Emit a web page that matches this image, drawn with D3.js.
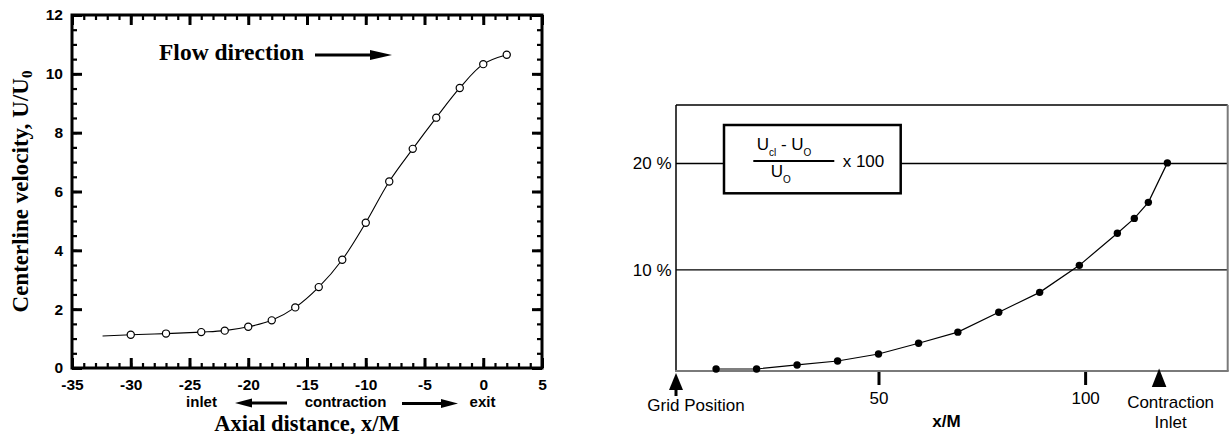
<!DOCTYPE html>
<html>
<head>
<meta charset="utf-8">
<script src="https://cdn.jsdelivr.net/npm/d3@7"></script>
<style>
  body { margin: 0; background: #fff; }
  svg { display: block; }
  .serif { font-family: "Liberation Serif", "Times New Roman", serif; font-weight: bold; }
  .sans { font-family: "Liberation Sans", Arial, Helvetica, sans-serif; }
</style>
</head>
<body>
<svg id="chart" width="1231" height="434"></svg>
<script>
// left panel: centerline velocity through the contraction
const leftX = [-30, -27, -24, -22, -20, -18, -16, -14, -12, -10, -8, -6, -4, -2, 0, 2];
const leftY = [1.13, 1.17, 1.22, 1.27, 1.40, 1.62, 2.06, 2.75, 3.68, 4.94, 6.34, 7.45, 8.51, 9.52, 10.33, 10.65];
const leftLineStart = [-32.4, 1.09];
const leftXTicks = [-35, -30, -25, -20, -15, -10, -5, 0, 5];
const leftYTicks = [0, 2, 4, 6, 8, 10, 12];

// right panel: (Ucl - Uo)/Uo x 100 along the tunnel
const rightX = [10.7, 20.5, 30.3, 40.1, 50, 59.7, 69.2, 79.1, 89.0, 98.6, 107.8, 111.9, 115.3, 119.9];
const rightY = [0.69, 0.69, 1.07, 1.44, 2.10, 3.11, 4.15, 6.02, 7.89, 10.43, 13.45, 14.84, 16.35, 20.06];
const rightXTicks = [50, 100];
const rightYTicks = [10, 20];
const rightMarks = [
  { x: 1, lines: ['Grid Position'], stem: true },
  { x: 117.9, lines: ['Contraction', 'Inlet'], stem: false }
];

const svg = d3.select('#chart');

function arrow(g, x1, y1, x2, y2, head, half, w) {
  const a = Math.atan2(y2 - y1, x2 - x1);
  const bx = x2 - head * Math.cos(a), by = y2 - head * Math.sin(a);
  g.append('line').attr('x1', x1).attr('y1', y1).attr('x2', bx).attr('y2', by)
    .attr('stroke', '#000').attr('stroke-width', w);
  const px = -Math.sin(a) * half, py = Math.cos(a) * half;
  g.append('path')
    .attr('d', `M${x2},${y2}L${bx + px},${by + py}L${bx - px},${by - py}Z`)
    .attr('fill', '#000');
}

// ---------- left panel ----------
const xL = d3.scaleLinear().domain([-35, 5]).range([72, 542]);
const yL = d3.scaleLinear().domain([0, 12]).range([368, 15]);
const gL = svg.append('g');

const minorX = d3.range(-35, 5.01, 1);
const minorY = d3.range(0, 12.01, 0.5);

const sides = [
  { make: () => d3.axisBottom(xL), t: `translate(0,${yL(0)})`, major: leftXTicks, minor: minorX, labels: true, pad: 11 },
  { make: () => d3.axisTop(xL), t: `translate(0,${yL(12)})`, major: leftXTicks, minor: minorX, labels: false },
  { make: () => d3.axisLeft(yL), t: `translate(${xL(-35)},0)`, major: leftYTicks, minor: minorY, labels: true, pad: 9 },
  { make: () => d3.axisRight(yL), t: `translate(${xL(5)},0)`, major: leftYTicks, minor: minorY, labels: false }
];
sides.forEach(s => {
  const gm = gL.append('g').attr('transform', s.t)
    .call(s.make().tickValues(s.minor).tickSizeInner(-5).tickSizeOuter(0).tickFormat(''));
  gm.select('.domain').remove();
  gm.selectAll('.tick line').attr('stroke-width', 2.2);

  const major = s.make().tickValues(s.major).tickSizeInner(-10).tickSizeOuter(0)
    .tickPadding(s.pad || 0).tickFormat(d => s.labels ? String(d) : '');
  const gM = gL.append('g').attr('transform', s.t).call(major);
  gM.select('.domain').remove();
  gM.selectAll('.tick line').attr('stroke-width', 3);
  gM.selectAll('.tick text').attr('class', 'sans')
    .style('font-size', '15.5px').style('font-weight', 'bold').attr('fill', '#000');
});

gL.append('rect')
  .attr('x', xL(-35)).attr('y', yL(12))
  .attr('width', xL(5) - xL(-35)).attr('height', yL(0) - yL(12))
  .attr('fill', 'none').attr('stroke', '#000').attr('stroke-width', 3);

const leftPts = leftX.map((x, i) => [x, leftY[i]]);
gL.append('path')
  .datum([leftLineStart].concat(leftPts))
  .attr('d', d3.line().x(d => xL(d[0])).y(d => yL(d[1])).curve(d3.curveCatmullRom))
  .attr('fill', 'none').attr('stroke', '#000').attr('stroke-width', 1.1);
gL.selectAll('circle.pt').data(leftPts).enter().append('circle')
  .attr('class', 'pt')
  .attr('cx', d => xL(d[0])).attr('cy', d => yL(d[1])).attr('r', 3.6)
  .attr('fill', '#fff').attr('stroke', '#000').attr('stroke-width', 1.2);

gL.append('text').attr('class', 'serif').attr('x', 159).attr('y', 60)
  .style('font-size', '23.5px').text('Flow direction');
arrow(gL, 315, 55, 392, 55, 22, 5, 3);

const yLab = gL.append('text').attr('class', 'serif')
  .attr('transform', `translate(28,${(yL(0) + yL(12)) / 2}) rotate(-90)`)
  .attr('text-anchor', 'middle').style('font-size', '23px');
yLab.append('tspan').text('Centerline velocity, U/U');
yLab.append('tspan').text('0').style('font-size', '15px').attr('dy', 4);

gL.append('text').attr('class', 'serif').attr('x', (xL(-35) + xL(5)) / 2).attr('y', 430.5)
  .attr('text-anchor', 'middle').style('font-size', '22.5px').text('Axial distance, x/M');

const subLab = [['inlet', 201.5], ['contraction', 345.5], ['exit', 482.5]];
subLab.forEach(d => {
  gL.append('text').attr('class', 'sans').attr('x', d[1]).attr('y', 407)
    .attr('text-anchor', 'middle').style('font-size', '15px').style('font-weight', 'bold').text(d[0]);
});
arrow(gL, 287, 403, 235, 403, 17, 4.5, 3);
arrow(gL, 402, 403.5, 458, 403.5, 17, 4.5, 3);

// ---------- right panel ----------
const xR = d3.scaleLinear().domain([1, 134.5]).range([676, 1227.7]);
const yR = d3.scaleLinear().domain([0.5, 25.5]).range([371, 105]);
const gR = svg.append('g');

gR.selectAll('line.grid').data(rightYTicks).enter().append('line')
  .attr('class', 'grid')
  .attr('x1', xR(1)).attr('x2', xR(134.5))
  .attr('y1', d => yR(d)).attr('y2', d => yR(d))
  .attr('stroke', '#000').attr('stroke-width', 1.4);

const yAxR = gR.append('g').attr('transform', `translate(${xR(1)},0)`)
  .call(d3.axisLeft(yR).tickValues(rightYTicks).tickSize(0).tickPadding(4.5).tickFormat(d => d + ' %'));
yAxR.select('.domain').remove();
yAxR.selectAll('text').attr('class', 'sans').style('font-size', '17px').attr('fill', '#000');

const xAxR = gR.append('g').attr('transform', `translate(0,${yR(0.5)})`)
  .call(d3.axisBottom(xR).tickValues(rightXTicks).tickSizeInner(14).tickSizeOuter(0).tickPadding(6.5));
xAxR.select('.domain').remove();
xAxR.selectAll('.tick line').attr('stroke-width', 3);
xAxR.selectAll('text').attr('class', 'sans').style('font-size', '17px').attr('fill', '#000');

// frame
gR.append('line').attr('x1', xR(1)).attr('x2', xR(134.5)).attr('y1', yR(25.5)).attr('y2', yR(25.5))
  .attr('stroke', '#000').attr('stroke-width', 1.5);
gR.append('line').attr('x1', xR(1)).attr('x2', xR(1)).attr('y1', yR(25.5)).attr('y2', yR(0.5))
  .attr('stroke', '#000').attr('stroke-width', 1.5);
gR.append('line').attr('x1', xR(1) - 1).attr('x2', xR(134.5) + 1).attr('y1', yR(0.5)).attr('y2', yR(0.5))
  .attr('stroke', '#7a7a7a').attr('stroke-width', 2);
gR.append('line').attr('x1', xR(134.5)).attr('x2', xR(134.5)).attr('y1', yR(25.5)).attr('y2', yR(0.5))
  .attr('stroke', '#7a7a7a').attr('stroke-width', 2);

// legend box with the formula
const bx = 724, by = 125;
gR.append('rect').attr('x', bx).attr('y', by).attr('width', 176.7).attr('height', 68.3)
  .attr('fill', '#fff').attr('stroke', '#000').attr('stroke-width', 2.5);
const num = gR.append('text').attr('class', 'sans').attr('x', bx + 32.7).attr('y', by + 25)
  .style('font-size', '17px');
num.append('tspan').text('U');
num.append('tspan').text('cl').style('font-size', '10px').attr('dy', 6);
num.append('tspan').text(' - U').attr('dy', -6);
num.append('tspan').text('O').style('font-size', '10px').attr('dy', 6);
gR.append('line').attr('x1', bx + 29.3).attr('x2', bx + 110.3).attr('y1', by + 36).attr('y2', by + 36)
  .attr('stroke', '#000').attr('stroke-width', 2);
const den = gR.append('text').attr('class', 'sans').attr('x', bx + 46.7).attr('y', by + 51.7)
  .style('font-size', '17px');
den.append('tspan').text('U');
den.append('tspan').text('O').style('font-size', '10px').attr('dy', 6);
gR.append('text').attr('class', 'sans').attr('x', bx + 118.7).attr('y', by + 41.7)
  .style('font-size', '17px').text('x 100');

// data
const rightPts = rightX.map((x, i) => [x, rightY[i]]);
gR.append('path').datum(rightPts)
  .attr('d', d3.line().x(d => xR(d[0])).y(d => yR(d[1])))
  .attr('fill', 'none').attr('stroke', '#000').attr('stroke-width', 1.2);
gR.selectAll('circle.pt').data(rightPts).enter().append('circle')
  .attr('class', 'pt')
  .attr('cx', d => xR(d[0])).attr('cy', d => yR(d[1])).attr('r', 3.7).attr('fill', '#000');

// bottom annotations
rightMarks.forEach(m => {
  const cx = xR(m.x), top = yR(0.5);
  if (m.stem) {
    gR.append('path').attr('d', `M${cx},${top + 2}L${cx + 7},${top + 19}L${cx - 7},${top + 19}Z`).attr('fill', '#000');
    gR.append('line').attr('x1', cx).attr('x2', cx).attr('y1', top + 15).attr('y2', top + 25)
      .attr('stroke', '#000').attr('stroke-width', 3);
  } else {
    gR.append('path').attr('d', `M${cx},${top - 2.5}L${cx + 7.3},${top + 16}L${cx - 7.3},${top + 16}Z`).attr('fill', '#000');
  }
  const t = gR.append('text').attr('class', 'sans').attr('text-anchor', 'middle')
    .style('font-size', '17px');
  m.lines.forEach((l, i) => {
    t.append('tspan').attr('x', m.stem ? cx + 20 : cx + 11.5).attr('y', (m.stem ? 410.5 : 408.3) + i * 20).text(l);
  });
});

gR.append('text').attr('class', 'sans').attr('x', 946.5).attr('y', 427)
  .attr('text-anchor', 'middle').style('font-size', '17px').style('font-weight', 'bold').text('x/M');
</script>
</body>
</html>
